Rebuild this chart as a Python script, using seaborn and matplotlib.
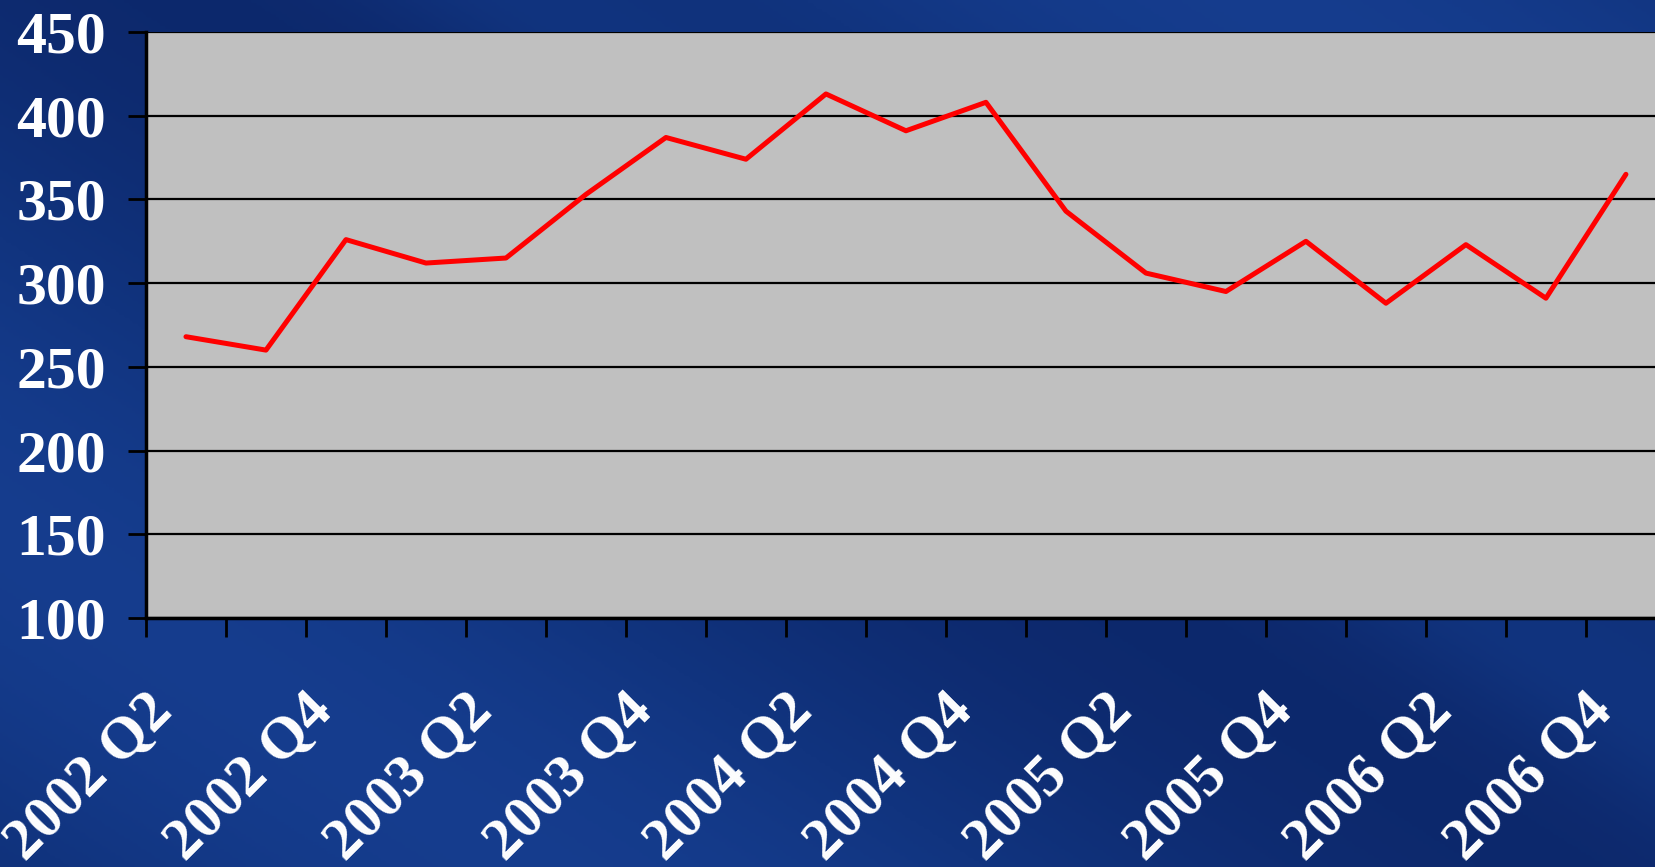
import numpy as np
import pandas as pd
import matplotlib
matplotlib.use("Agg")
import matplotlib.pyplot as plt
import matplotlib.transforms as mtransforms
from matplotlib.colors import LinearSegmentedColormap
import seaborn as sns

# quarterly values, 2002 Q2 .. 2006 Q4
quarters = ["2002 Q2", "2002 Q3", "2002 Q4",
            "2003 Q1", "2003 Q2", "2003 Q3", "2003 Q4",
            "2004 Q1", "2004 Q2", "2004 Q3", "2004 Q4",
            "2005 Q1", "2005 Q2", "2005 Q3", "2005 Q4",
            "2006 Q1", "2006 Q2", "2006 Q3", "2006 Q4"]
values = [268, 260, 326, 312, 315, 353, 387, 374, 413, 391, 408,
          343, 306, 295, 325, 288, 323, 291, 365]
y_ticks = [100, 150, 200, 250, 300, 350, 400, 450]

df = pd.DataFrame({"quarter": quarters, "value": values})

sns.set_style("white")
plt.rcParams["font.family"] = ["Liberation Serif", "DejaVu Serif"]
plt.rcParams["font.weight"] = "bold"

fig = plt.figure(figsize=(16.55, 8.67), dpi=100)
fig.patch.set_facecolor("#0e2c72")

# blue slide background
bg = fig.add_axes([0, 0, 1, 1], zorder=-10)
bg.set_axis_off()
yy, xx = np.mgrid[0:1:300j, 0:1:600j]
diag = xx * 0.55 + (1 - yy) * 0.45
shade = 0.45 + 0.25 * np.sin(diag * 9.0) + 0.2 * np.exp(-((diag - 0.62) / 0.05) ** 2)
cmap = LinearSegmentedColormap.from_list("slide", ["#0a2160", "#11347f", "#1c49a3"])
bg.imshow(shade, cmap=cmap, aspect="auto", extent=[0, 1, 0, 1], vmin=0, vmax=1)
bg.set_xlim(0, 1)
bg.set_ylim(0, 1)

ax = fig.add_axes([0.0882, 0.2872, 0.9184, 0.6759])
ax.set_facecolor("#c0c0c0")

sns.lineplot(data=df, x="quarter", y="value", ax=ax, color="#ff0000",
             linewidth=3.6, sort=False)

ax.set_xlim(-0.5, len(quarters) - 0.5)
ax.set_ylim(100, 450)
ax.set_yticks(y_ticks)
ax.set_yticklabels([str(v) for v in y_ticks])
ax.yaxis.grid(True, color="black", linewidth=1.6)
ax.set_axisbelow(True)

# labels on every other quarter, ticks between categories
ax.set_xticks(range(0, len(quarters), 2))
ax.set_xticklabels(quarters[::2], rotation=45, ha="right",
                   rotation_mode="anchor", va="center")
ax.set_xticks(np.arange(-0.5, len(quarters) - 0.5, 1), minor=True)
ax.tick_params(axis="x", which="major", bottom=True, length=0, pad=61,
               labelsize=43, labelcolor="white")
ax.tick_params(axis="x", which="minor", bottom=True, length=14, width=2,
               color="black", direction="out")
ax.tick_params(axis="y", left=True, length=13, width=2, color="black",
               direction="out", pad=16, labelsize=43, labelcolor="white")
shift = mtransforms.ScaledTranslation(-22 / 100, 0, fig.dpi_scale_trans)
for lab in ax.get_xticklabels():
    lab.set_fontweight("bold")
    lab.set_transform(lab.get_transform() + shift)
for lab in ax.get_yticklabels():
    lab.set_fontweight("bold")

ax.set_xlabel("")
ax.set_ylabel("")
for side in ["top", "right"]:
    ax.spines[side].set_visible(False)
for side in ["left", "bottom"]:
    ax.spines[side].set_color("black")
    ax.spines[side].set_linewidth(2.5)

fig.savefig("out.png", dpi=100, facecolor=fig.get_facecolor())
